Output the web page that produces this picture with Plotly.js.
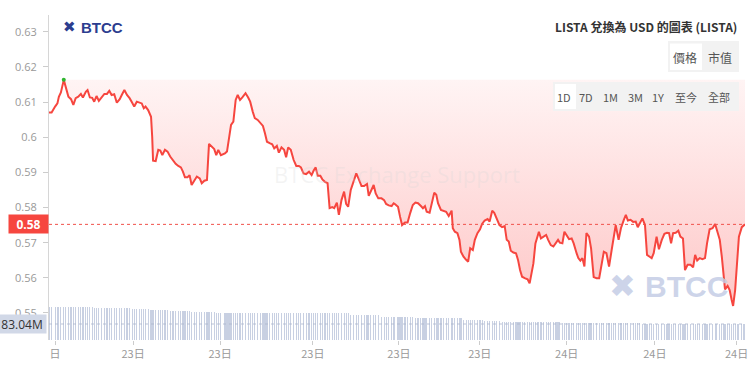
<!DOCTYPE html>
<html>
<head>
<meta charset="utf-8">
<script src="https://cdn.plot.ly/plotly-3.0.1.min.js"></script>
<style>html,body{margin:0;padding:0;background:#fff;}#chart{width:750px;height:379px;}</style>
</head>
<body>
<div id="chart"></div>
<script>
// time since start of window, hours
const times = [
0,0.09,0.21,0.29,0.34,0.41,0.51,0.58,0.67,0.76,
0.84,0.92,1.01,1.10,1.17,1.27,1.33,1.41,1.49,1.56,
1.64,1.72,1.82,1.91,2.00,2.08,2.16,2.25,2.34,2.44,
2.51,2.60,2.69,2.78,2.87,2.94,3.03,3.13,3.20,3.27,
3.33,3.42,3.52,3.56,3.59,3.68,3.77,3.84,3.91,4.00,
4.09,4.18,4.28,4.37,4.46,4.55,4.62,4.69,4.78,4.85,
4.92,5.01,5.10,5.20,5.27,5.36,5.45,5.52,5.61,5.70,
5.77,5.84,5.93,6.07,6.14,6.21,6.28,6.36,6.44,6.51,
6.59,6.67,6.78,6.87,6.94,7.03,7.10,7.20,7.29,7.38,
7.45,7.52,7.61,7.70,7.77,7.86,7.93,8.02,8.11,8.18,
8.25,8.34,8.44,8.53,8.62,8.69,8.78,8.87,8.97,9.06,
9.13,9.20,9.27,9.36,9.43,9.52,9.61,9.68,9.77,9.84,
9.93,10.00,10.09,10.18,10.25,10.32,10.41,10.51,10.60,10.69,
10.78,10.87,10.97,11.03,11.10,11.20,11.27,11.36,11.47,11.56,
11.63,11.72,11.82,11.89,11.93,12.04,12.11,12.18,12.28,12.37,
12.46,12.55,12.64,12.73,12.83,12.90,12.97,13.03,13.13,13.20,
13.29,13.36,13.42,13.52,13.61,13.70,13.79,13.89,13.93,14.00,
14.09,14.16,14.21,14.30,14.39,14.46,14.53,14.62,14.69,14.78,
14.87,14.94,15.03,15.13,15.20,15.29,15.36,15.45,15.54,15.63,
15.72,15.79,15.86,15.93,16.02,16.11,16.18,16.25,16.32,16.41,
16.51,16.58,16.64,16.71,16.78,16.85,16.90,16.97,17.06,17.15,
17.22,17.31,17.40,17.49,17.56,17.62,17.71,17.78,17.85,17.94,
18.03,18.10,18.20,18.26,18.33,18.40,18.47,18.54,18.63,18.70,
18.79,18.89,18.98,19.07,19.14,19.23,19.32,19.41,19.48,19.55,
19.65,19.73,19.83,19.90,19.97,20.06,20.15,20.24,20.31,20.38,
20.47,20.56,20.63,20.72,20.79,20.86,20.96,21.04,21.14,21.23,
21.32,21.39,21.46,21.53,21.62,21.71,21.78,21.87,21.94,22.03,
22.13,22.22,22.29,22.36,22.45,22.54,22.63,22.70,22.79,22.89,
22.98,23.04,23.14,23.21,23.28,23.32,23.41,23.48,23.55,23.60,
23.67,23.74,23.80,23.90,23.97,24.01
];

const prices = [
0.6070,0.6070,0.6087,0.6096,0.6115,0.6127,0.6163,0.6139,0.6115,0.6108,
0.6092,0.6111,0.6115,0.6123,0.6113,0.6129,0.6134,0.6113,0.6112,0.6101,
0.6117,0.6103,0.6115,0.6123,0.6123,0.6132,0.6120,0.6122,0.6098,0.6108,
0.6120,0.6134,0.6120,0.6111,0.6098,0.6087,0.6101,0.6099,0.6096,0.6082,
0.6087,0.6077,0.6058,0.6001,0.5933,0.5932,0.5964,0.5962,0.5949,0.5964,
0.5959,0.5945,0.5933,0.5924,0.5918,0.5914,0.5902,0.5886,0.5886,0.5892,
0.5864,0.5878,0.5888,0.5883,0.5869,0.5876,0.5878,0.5981,0.5973,0.5966,
0.5949,0.5964,0.5949,0.5954,0.5959,0.5992,0.6035,0.6044,0.6106,0.6120,
0.6106,0.6113,0.6125,0.6113,0.6101,0.6072,0.6054,0.6049,0.6040,0.6032,
0.6011,0.5987,0.5983,0.5980,0.5968,0.5975,0.5956,0.5971,0.5964,0.5943,
0.5971,0.5964,0.5935,0.5918,0.5918,0.5914,0.5897,0.5895,0.5902,0.5892,
0.5905,0.5914,0.5890,0.5890,0.5880,0.5873,0.5869,0.5798,0.5801,0.5798,
0.5814,0.5779,0.5821,0.5845,0.5810,0.5802,0.5850,0.5878,0.5897,0.5880,
0.5861,0.5861,0.5867,0.5833,0.5845,0.5864,0.5840,0.5826,0.5826,0.5821,
0.5810,0.5806,0.5804,0.5812,0.5810,0.5802,0.5774,0.5750,0.5757,0.5757,
0.5784,0.5807,0.5814,0.5812,0.5804,0.5798,0.5804,0.5788,0.5785,0.5812,
0.5842,0.5836,0.5812,0.5793,0.5791,0.5788,0.5776,0.5791,0.5741,0.5731,
0.5727,0.5708,0.5674,0.5660,0.5651,0.5646,0.5684,0.5679,0.5708,0.5727,
0.5738,0.5753,0.5763,0.5767,0.5760,0.5791,0.5785,0.5765,0.5750,0.5744,
0.5747,0.5708,0.5703,0.5677,0.5672,0.5670,0.5651,0.5622,0.5603,0.5599,
0.5596,0.5584,0.5613,0.5641,0.5698,0.5722,0.5731,0.5712,0.5717,0.5722,
0.5708,0.5693,0.5689,0.5700,0.5708,0.5700,0.5698,0.5731,0.5722,0.5710,
0.5712,0.5698,0.5670,0.5656,0.5649,0.5656,0.5632,0.5727,0.5717,0.5684,
0.5602,0.5599,0.5599,0.5637,0.5674,0.5670,0.5632,0.5679,0.5717,0.5750,
0.5708,0.5741,0.5765,0.5779,0.5763,0.5765,0.5759,0.5760,0.5744,0.5755,
0.5769,0.5750,0.5665,0.5660,0.5656,0.5670,0.5717,0.5681,0.5708,0.5725,
0.5728,0.5727,0.5698,0.5727,0.5728,0.5734,0.5717,0.5712,0.5622,0.5637,
0.5637,0.5630,0.5665,0.5649,0.5656,0.5653,0.5656,0.5698,0.5738,0.5741,
0.5753,0.5736,0.5708,0.5660,0.5603,0.5567,0.5577,0.5565,0.5537,0.5520,
0.5565,0.5641,0.5717,0.5744,0.5750,0.5752
];

// 24h volume, millions USD
const volumes = [
96.9,97.1,96.8,96.9,97.0,96.9,96.8,97.0,96.9,96.9,97.1,96.8,96.9,97.0,96.9,96.8,96.9,97.0,96.9,
96.3,96.2,96.4,96.3,96.3,96.1,96.3,96.4,96.2,96.3,96.3,96.4,96.2,96.3,96.3,
95.3,95.4,95.2,95.3,95.3,95.1,95.3,95.4,
94.7,94.6,94.8,94.7,94.7,94.5,94.7,94.8,94.6,
93.6,93.7,93.5,93.6,93.6,93.8,93.5,93.6,93.7,
92.8,92.7,92.9,92.8,92.8,92.6,92.8,92.9,92.7,92.8,
92.3,92.2,92.2,92.4,92.2,92.1,92.3,92.2,92.2,92.3,
92.1,92.2,92.3,92.2,92.2,92.4,92.2,92.1,92.2,92.3,
92.2,92.2,92.1,92.3,92.2,92.2,92.3,92.2,92.1,92.2,
92.2,92.3,92.2,92.2,92.1,92.2,92.3,92.2,92.2,92.1,
92.2,92.3,92.2,92.1,92.2,92.2,92.3,92.2,92.1,92.2,
92.2,92.1,92.2,92.0,92.1,92.0,
90.1,90.2,90.0,90.1,90.1,90.3,90.1,90.0,90.1,90.2,90.1,90.0,
88.5,88.6,88.4,88.5,88.5,88.7,88.5,88.4,88.5,88.6,88.5,88.4,88.5,88.5,
87.7,87.8,87.6,87.7,87.7,87.9,87.7,87.6,87.7,87.8,87.7,87.6,87.7,87.7,87.8,87.6,87.7,87.7,87.8,87.6,87.7,
86.3,86.4,86.2,86.3,86.3,86.4,86.2,86.3,86.3,
85.7,85.8,85.6,85.7,85.7,85.8,85.6,
84.9,85.0,84.8,84.9,84.9,85.0,84.8,84.9,84.9,85.0,84.9,84.8,84.9,84.9,85.0,84.8,84.9,84.9,85.0,84.9,84.8,84.9,84.9,85.0,84.8,84.9,84.9,
84.1,84.2,84.0,84.1,84.1,84.2,84.0,84.1,84.1,84.2,84.1,84.0,84.1,84.1,84.2,84.0,84.1,84.1,84.2,84.1,
84.0,84.1,84.1,84.2,84.0,84.1,84.1,84.2,84.1,84.0,84.1,84.1,84.0,83.9,
83.1,83.0,83.2,83.0,83.1,83.0,83.1,83.2,83.0,83.1,83.0,83.1,83.0,83.2,83.1,83.0,83.1,83.0,83.1,83.2,
83.0,83.1,83.0,83.1,83.0,83.2,83.1,83.0,83.1,83.0,83.1,83.0,83.2,83.0,83.1,83.0,83.1,83.0,83.1,83.0,
83.1,83.0,83.1,83.0,83.0,83.04
];

const tickHours = [0.21,2.90,5.90,9.10,12.07,14.86,17.86,20.90,23.72];
const tickLabels = ['日','23日','23日','23日','23日','23日','24日','24日','24日'];
const yTicks = [0.55,0.56,0.57,0.58,0.59,0.6,0.61,0.62,0.63];
const titleText = 'LISTA 兌換為 USD 的圖表 (LISTA)';
const metricButtons = ['價格','市值'];
const rangeButtons = ['1D','7D','1M','3M','1Y','至今','全部'];

// ---- layout helpers (plot area in pixels) ----
const W = 750, H = 379, L = 49, R = 745, T = 15, B = 340;
const px = v => (v - L) / (R - L);
const py = v => (B - v) / (B - T);
const FONT = '"Open Sans","Noto Sans CJK TC",sans-serif';
const CJK = '"Noto Sans CJK TC","Open Sans",sans-serif';

const n = Math.min(times.length, prices.length);
const t = times.slice(0, n), p = prices.slice(0, n);
const vn = Math.min(n, volumes.length);
const last = p[n - 1];
let iMax = 0; p.forEach((v, i) => { if (v > p[iMax]) iMax = i; });
const pMax = p[iMax];
const lastVol = volumes[vn - 1];

const fillX = t.slice(iMax).concat([t[n - 1], t[iMax]]);
const fillY = p.slice(iMax).concat([pMax, pMax]);

const traces = [
  { type: 'bar', x: t.slice(0, vn), y: volumes.slice(0, vn), yaxis: 'y2',
    width: 0.04, marker: { color: 'rgb(200,208,226)', line: { width: 0 } }, hoverinfo: 'skip' },
  { type: 'scatter', mode: 'lines', x: fillX, y: fillY, fill: 'toself',
    line: { width: 0, color: 'rgba(0,0,0,0)' },
    fillgradient: { type: 'vertical', colorscale: [[0, 'rgba(252,70,70,0.30)'], [1, 'rgba(252,70,70,0.06)']] },
    hoverinfo: 'skip' },
  { type: 'scatter', mode: 'lines', x: t, y: p,
    line: { color: '#f6463f', width: 2 }, hoverinfo: 'skip' },
  { type: 'scatter', mode: 'markers', x: [t[iMax]], y: [pMax],
    marker: { color: '#2fb52f', size: 4 }, hoverinfo: 'skip' }
];

const ann = [];
const shapes = [];

// current price line + label
shapes.push({ type: 'line', xref: 'paper', x0: 0, x1: 1, yref: 'y', y0: last, y1: last,
  line: { color: '#f0504a', width: 1, dash: 'dot' } });
ann.push({ xref: 'paper', x: 0, xanchor: 'right', yref: 'y', y: last, yanchor: 'middle',
  text: '<b>' + last.toFixed(2) + '</b>', showarrow: false, bgcolor: '#f6463f',
  font: { color: '#fff', size: 12, family: FONT }, width: 35, height: 14, borderpad: 2 });

// volume line + label
shapes.push({ type: 'line', xref: 'paper', x0: 0, x1: 1, yref: 'y2', y0: lastVol, y1: lastVol,
  line: { color: 'rgba(170,180,205,0.8)', width: 1, dash: 'dot' } });
ann.push({ xref: 'paper', x: px(47), xanchor: 'right', yref: 'y2', y: lastVol, yanchor: 'middle',
  text: lastVol.toFixed(2) + 'M', showarrow: false, bgcolor: 'rgb(209,216,231)',
  font: { color: '#333', size: 12, family: FONT }, width: 44, height: 14, borderpad: 2 });

// title
ann.push({ xref: 'paper', yref: 'paper', x: px(739), y: py(26), xanchor: 'right', yanchor: 'middle',
  text: '<b>' + titleText + '</b>', showarrow: false, font: { size: 12, color: '#333', family: CJK } });

// button group 1
shapes.push({ type: 'rect', xref: 'paper', yref: 'paper', x0: px(668), x1: px(739), y0: py(72), y1: py(41),
  fillcolor: '#f2f2f2', line: { width: 0 } });
shapes.push({ type: 'rect', xref: 'paper', yref: 'paper', x0: px(670), x1: px(702), y0: py(70), y1: py(43.5),
  fillcolor: '#ffffff', line: { width: 0 } });
[685, 720].forEach((x, i) => ann.push({ xref: 'paper', yref: 'paper', x: px(x), y: py(57),
  xanchor: 'center', yanchor: 'middle', text: metricButtons[i], showarrow: false,
  font: { size: 12, color: '#555', family: CJK } }));

// button group 2
shapes.push({ type: 'rect', xref: 'paper', yref: 'paper', x0: px(553), x1: px(739), y0: py(111), y1: py(82),
  fillcolor: '#f2f2f2', line: { width: 0 } });
shapes.push({ type: 'rect', xref: 'paper', yref: 'paper', x0: px(555), x1: px(576), y0: py(109), y1: py(84),
  fillcolor: '#ffffff', line: { width: 0 } });
[564, 586, 610, 635, 658, 686, 719].forEach((x, i) => ann.push({ xref: 'paper', yref: 'paper', x: px(x), y: py(97),
  xanchor: 'center', yanchor: 'middle', text: rangeButtons[i], showarrow: false,
  font: { size: 11, color: '#555', family: CJK } }));

// logo
ann.push({ xref: 'paper', yref: 'paper', x: px(69), y: py(27), xanchor: 'center', yanchor: 'middle',
  text: '✖', showarrow: false, font: { size: 15, color: '#2c3d8f', family: '"DejaVu Sans"' } });
ann.push({ xref: 'paper', yref: 'paper', x: px(79), y: py(27), xanchor: 'left', yanchor: 'middle',
  text: '<b>BTCC</b>', showarrow: false, font: { size: 15, color: '#2c3d8f', family: '"Liberation Sans",Arial' } });

// watermarks
ann.push({ xref: 'paper', yref: 'paper', x: px(397), y: py(174), xanchor: 'center', yanchor: 'middle',
  text: 'BTCC Exchange Support', showarrow: false,
  font: { size: 22, color: 'rgba(215,215,215,0.28)', family: FONT } });
ann.push({ xref: 'paper', yref: 'paper', x: px(622), y: py(286), xanchor: 'center', yanchor: 'middle',
  text: '✖', showarrow: false, font: { size: 32, color: 'rgba(196,205,230,0.85)', family: '"DejaVu Sans"' } });
ann.push({ xref: 'paper', yref: 'paper', x: px(643), y: py(286), xanchor: 'left', yanchor: 'middle',
  text: '<b>BTCC</b>', showarrow: false, font: { size: 30, color: 'rgba(196,205,230,0.85)', family: '"Liberation Sans",Arial' } });

const layout = {
  width: W, height: H,
  margin: { l: L, r: W - R, t: T, b: H - B, pad: 0 },
  paper_bgcolor: '#fff', plot_bgcolor: '#fff',
  showlegend: false,
  font: { family: FONT, size: 11, color: '#999' },
  xaxis: {
    range: [0, t[n - 1]], showgrid: false, zeroline: false, showline: false,
    tickmode: 'array', tickvals: tickHours, ticktext: tickLabels,
    ticks: 'outside', ticklen: 4, tickcolor: '#ccc',
    tickfont: { size: 11, color: '#999', family: CJK }
  },
  yaxis: {
    range: [0.54231, 0.63475], showgrid: false, zeroline: false,
    showline: true, linecolor: '#d6d6d6', linewidth: 1,
    tickmode: 'array', tickvals: yTicks, ticktext: yTicks.map(v => String(v)),
    ticks: 'outside', ticklen: 5, tickcolor: '#ccc', ticklabelstandoff: 4,
    tickfont: { size: 11, color: '#999', family: FONT }
  },
  yaxis2: {
    overlaying: 'y', side: 'left', range: [70, 334.9], showgrid: false, zeroline: false,
    showticklabels: false, showline: false, ticks: ''
  },
  bargap: 0,
  shapes: shapes,
  annotations: ann
};

Plotly.newPlot('chart', traces, layout, { staticPlot: true, displayModeBar: false });
</script>
</body>
</html>
